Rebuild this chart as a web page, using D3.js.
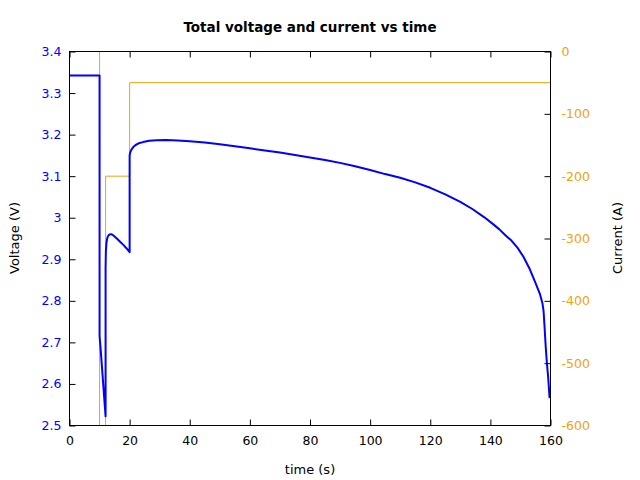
<!DOCTYPE html>
<html>
<head>
<meta charset="utf-8">
<script src="https://cdn.jsdelivr.net/npm/d3@7"></script>
<style>
  body { margin: 0; background: #fff; }
  svg text { font-family: "DejaVu Sans", sans-serif; }
</style>
</head>
<body>
<svg id="chart" width="640" height="480"></svg>
<script>
// Data
//-------------------------
var timeTicks = [0, 20, 40, 60, 80, 100, 120, 140, 160];
var voltTicks = [2.5, 2.6, 2.7, 2.8, 2.9, 3.0, 3.1, 3.2, 3.3, 3.4];
var currTicks = [-600, -500, -400, -300, -200, -100, 0];

// voltage trace (time in s, voltage in V)
var voltTime = [0, 10, 10, 10.3, 12,
    12, 12.1, 12.3, 12.6, 13, 13.5, 14, 14.5, 15, 16, 17, 18, 19, 20,
    20, 20.2, 20.6, 21.2, 22, 23, 24.5, 26.5, 29, 32, 36, 40, 45, 50, 55, 60, 65,
    70, 75, 80, 85, 90, 95, 100, 105, 110, 115, 120, 125, 130, 134, 138, 141, 143,
    145, 147, 149, 151, 153, 155, 156.5, 157.3, 157.7, 158, 158.4, 158.8, 159.2, 159.7];
var voltage = [3.342, 3.342, 2.715, 2.69, 2.522,
    2.88, 2.92, 2.940, 2.952, 2.958, 2.960, 2.960, 2.958, 2.955, 2.948, 2.941, 2.934, 2.926, 2.917,
    3.150, 3.157, 3.164, 3.170, 3.175, 3.179, 3.182, 3.185, 3.1865, 3.187, 3.186, 3.184, 3.181,
    3.177, 3.172, 3.167, 3.162, 3.157, 3.151, 3.145, 3.139, 3.132, 3.124, 3.115, 3.105, 3.096,
    3.085, 3.072, 3.056, 3.038, 3.021, 3.001, 2.984, 2.972, 2.958, 2.945, 2.928, 2.906, 2.878,
    2.843, 2.816, 2.795, 2.775, 2.740, 2.690, 2.650, 2.618, 2.566];

// current trace (step profile)
var currTime = [0, 10, 10, 12, 12, 20, 20, 160];
var current = [0, 0, -600, -600, -200, -200, -50, -50];

var blue = "#0000ff";
var orange = "#f0a30a";

//-------------------------
var svg = d3.select("#chart");
// note: "top" is taken by window.top, so use other names
var plotL = 69.5, plotR = 550.5, plotT = 51.5, plotB = 425.5;

var x = d3.scaleLinear().domain([0, 160]).range([plotL, plotR]);
var yV = d3.scaleLinear().domain([2.5, 3.4]).range([plotB, plotT]);
var yI = d3.scaleLinear().domain([-600, 0]).range([plotB, plotT]);

svg.append("clipPath").attr("id", "plotClip")
    .append("rect")
    .attr("x", plotL).attr("y", plotT - 1)
    .attr("width", plotR - plotL).attr("height", plotB - plotT + 2);

// current line
var currLine = d3.line()
    .x(function (d, i) { return x(currTime[i]); })
    .y(function (d) { return yI(d); });
svg.append("path")
    .attr("d", currLine(current))
    .attr("fill", "none")
    .attr("stroke", orange)
    .attr("stroke-width", 1)
    .attr("clip-path", "url(#plotClip)");

// voltage line
var voltLine = d3.line()
    .x(function (d, i) { return x(voltTime[i]); })
    .y(function (d) { return yV(d); });
svg.append("path")
    .attr("d", voltLine(voltage))
    .attr("fill", "none")
    .attr("stroke", blue)
    .attr("stroke-width", 2)
    .attr("stroke-linejoin", "round")
    .attr("clip-path", "url(#plotClip)");

// axes (ticks pointing inward, like gnuplot)
function styleAxis(g, color) {
    g.select(".domain").remove();
    g.selectAll(".tick line").attr("stroke", "#000");
    g.selectAll(".tick text").attr("fill", color).attr("font-size", 12.5);
}

svg.append("g")
    .attr("transform", "translate(0," + plotB + ")")
    .call(d3.axisBottom(x).tickValues(timeTicks).tickSizeInner(-6).tickPadding(11)
        .tickFormat(function (d) { return String(d); }))
    .call(styleAxis, "#000");

svg.append("g")
    .attr("transform", "translate(0," + plotT + ")")
    .call(d3.axisTop(x).tickValues(timeTicks).tickSizeInner(-6).tickFormat(""))
    .call(styleAxis, "#000");

svg.append("g")
    .attr("transform", "translate(" + plotL + ",0)")
    .call(d3.axisLeft(yV).tickValues(voltTicks).tickSizeInner(-6).tickPadding(8)
        .tickFormat(function (d) { return String(+d.toFixed(1)); }))
    .call(styleAxis, blue);

svg.append("g")
    .attr("transform", "translate(" + plotR + ",0)")
    .call(d3.axisRight(yI).tickValues(currTicks).tickSizeInner(-6).tickPadding(11)
        .tickFormat(function (d) { return String(d); }))
    .call(styleAxis, orange);

// border
svg.append("rect")
    .attr("x", plotL).attr("y", plotT)
    .attr("width", plotR - plotL).attr("height", plotB - plotT)
    .attr("fill", "none").attr("stroke", "#000").attr("stroke-width", 1);

// title and labels
svg.append("text")
    .attr("x", 310).attr("y", 32)
    .attr("text-anchor", "middle")
    .attr("font-size", 13.5).attr("font-weight", "bold")
    .text("Total voltage and current vs time");

svg.append("text")
    .attr("x", 310).attr("y", 474)
    .attr("text-anchor", "middle")
    .attr("font-size", 13)
    .text("time (s)");

svg.append("text")
    .attr("transform", "translate(19,238) rotate(-90)")
    .attr("text-anchor", "middle")
    .attr("font-size", 13)
    .text("Voltage (V)");

svg.append("text")
    .attr("transform", "translate(622,238) rotate(-90)")
    .attr("text-anchor", "middle")
    .attr("font-size", 13)
    .text("Current (A)");
</script>
</body>
</html>
